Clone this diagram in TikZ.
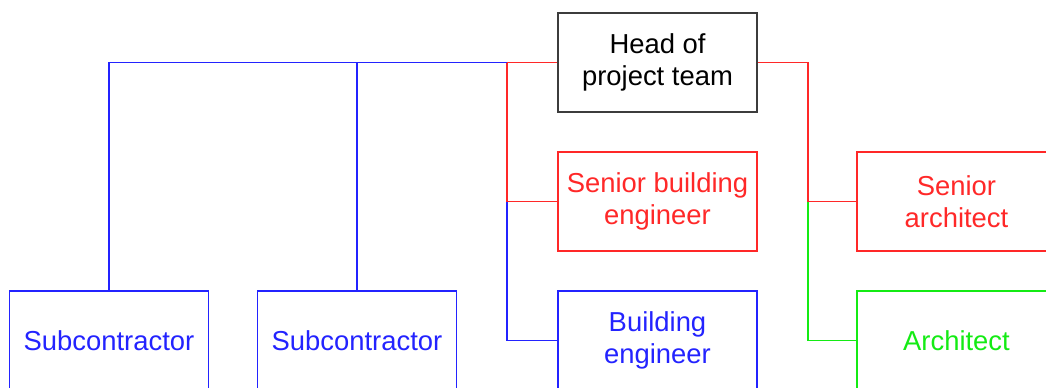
\documentclass[tikz,border=0pt]{standalone}
\usepackage{fontspec}
\setmainfont{Liberation Sans}
\usepackage{tikz}
\definecolor{headGray}{RGB}{60, 60, 60}
\definecolor{teamRed}{RGB}{255, 40, 40}
\definecolor{teamBlue}{RGB}{35, 35, 255}
\definecolor{teamGreen}{RGB}{20, 235, 20}

\begin{document}
\begin{tikzpicture}[x=0.02cm, y=-0.02cm,
    role/.style={draw, rectangle, minimum width=3.98cm, minimum height=1.98cm,
      inner sep=0pt, align=center, line width=0.8pt,
      font=\fontsize{15.6}{18.4}\selectfont},
    link/.style={line width=0.7pt}]
      \path[use as bounding box, clip] (0,0) rectangle (1046,387);

      \node[role, draw=headGray, line width=1.1pt] (head) at (657.5,62.5) {Head of\\project team};
      \node[role, teamRed] (sbe) at (657.5,201.5) {Senior building\\engineer};
      \node[role, teamBlue] (be) at (657.5,340.5) {Building\\engineer};
      \node[role, teamRed] (sarch) at (956.5,201.5) {Senior\\architect};
      \node[role, teamGreen] (arch) at (956.5,340.5) {Architect};
      \node[role, teamBlue] (sub1) at (109,340.5) {Subcontractor};
      \node[role, teamBlue] (sub2) at (357,340.5) {Subcontractor};

      \coordinate (lsplit) at ([xshift=-1cm] head.west);
      \coordinate (rsplit) at ([xshift=1cm] head.east);

      \draw[link, teamRed] (head.west) -- (lsplit) -- (lsplit |- sbe.west) -- (sbe.west);
      \draw[link, teamBlue] (lsplit |- sbe.west) -- (lsplit |- be.west) -- (be.west);
      \draw[link, teamBlue] (lsplit) -- (sub1.north |- lsplit) -- (sub1.north);
      \draw[link, teamBlue] (sub2.north |- lsplit) -- (sub2.north);

      \draw[link, teamRed] (head.east) -- (rsplit) -- (rsplit |- sarch.west) -- (sarch.west);
      \draw[link, teamGreen] (rsplit |- sarch.west) -- (rsplit |- arch.west) -- (arch.west);
    \end{tikzpicture}
\end{document}
